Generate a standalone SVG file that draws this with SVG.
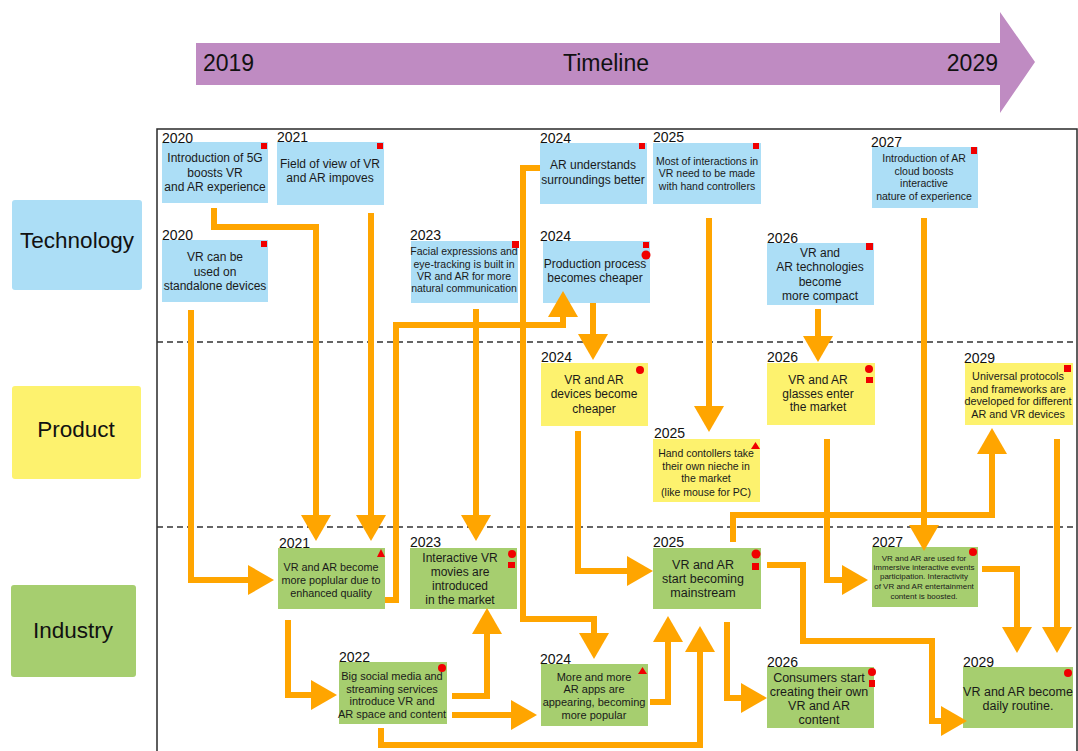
<svg xmlns="http://www.w3.org/2000/svg" width="1078" height="751" viewBox="0 0 1078 751">
<defs>
<marker id="ah" markerUnits="userSpaceOnUse" markerWidth="26" markerHeight="30" viewBox="0 0 26 30" refX="0" refY="15" orient="auto">
<path d="M0,0 L26,15 L0,30 Z" fill="#FFA500"/>
</marker>
</defs>
<style>
.lbl{font-family:"Liberation Sans",Arial,sans-serif;fill:#111;text-anchor:middle}
.yr{font-family:"Liberation Sans",Arial,sans-serif;font-size:14px;fill:#111}
.t{font-family:"Liberation Sans",Arial,sans-serif;fill:#1a1a1a;text-anchor:middle}
.tech{fill:#ACDEF6}
.prod{fill:#FDF26E}
.ind{fill:#A6CE6F}
.mk{fill:#F00000}
.c{fill:none;stroke:#FFA500;stroke-width:6;stroke-linejoin:miter;stroke-linecap:butt;marker-end:url(#ah)}
.dash{stroke:#333;stroke-width:1.3;stroke-dasharray:6,4}
</style>
<rect width="1078" height="751" fill="#fff"/>

<g id="timeline">
<path d="M196,43 H1000 V12 L1035,62 L1000,113 V85 H196 Z" fill="#BF8BC2"/>
<text x="203" y="71" font-family="Liberation Sans, Arial, sans-serif" font-size="23" fill="#111">2019</text>
<text x="606" y="71" class="lbl" font-size="23">Timeline</text>
<text x="998" y="71" font-family="Liberation Sans, Arial, sans-serif" font-size="23" fill="#111" text-anchor="end">2029</text>
</g>

<g id="lanes">
<rect x="12" y="200" width="130" height="90" rx="3" class="tech"/>
<text x="77" y="248" class="lbl" font-size="22.5">Technology</text>
<rect x="12" y="386" width="129" height="93" rx="3" class="prod"/>
<text x="76" y="437" class="lbl" font-size="22.5">Product</text>
<rect x="11" y="585" width="125" height="92" rx="3" class="ind"/>
<text x="73" y="638" class="lbl" font-size="22.5">Industry</text>
<rect x="157" y="129" width="920" height="640" fill="none" stroke="#2a2a2a" stroke-width="1.5"/>
<line x1="157" y1="342" x2="1077" y2="342" class="dash"/>
<line x1="157" y1="527" x2="1077" y2="527" class="dash"/>
</g>

<g id="nodes">
<g id="n1"><rect x="162" y="142" width="106" height="61" class="tech"/><text x="162" y="143" class="yr">2020</text>
<text class="t" font-size="12"><tspan x="215" y="162">Introduction of 5G</tspan><tspan x="215" y="177">boosts VR</tspan><tspan x="215" y="191">and AR experience</tspan></text>
<rect x="261" y="143" width="6" height="6" class="mk"/></g>

<g id="n2"><rect x="277" y="142" width="107" height="63" class="tech"/><text x="277" y="142" class="yr">2021</text>
<text class="t" font-size="12"><tspan x="330" y="168">Field of view of VR</tspan><tspan x="330" y="182">and AR impoves</tspan></text>
<rect x="377" y="143" width="6" height="6" class="mk"/></g>

<g id="n3"><rect x="162" y="240" width="106" height="62" class="tech"/><text x="162" y="240" class="yr">2020</text>
<text class="t" font-size="12"><tspan x="215" y="261">VR can be</tspan><tspan x="215" y="276">used on</tspan><tspan x="215" y="290">standalone devices</tspan></text>
<rect x="261" y="241" width="6" height="6" class="mk"/></g>

<g id="n4"><rect x="411" y="241" width="107" height="62" class="tech"/><text x="410" y="240" class="yr">2023</text>
<text class="t" font-size="10.5"><tspan x="464" y="255">Facial expressions and</tspan><tspan x="464" y="268">eye-tracking is built in</tspan><tspan x="464" y="280">VR and AR for more</tspan><tspan x="464" y="292">natural communication</tspan></text>
<rect x="512" y="241" width="7" height="7" class="mk"/></g>

<g id="n5"><rect x="540" y="143" width="107" height="61" class="tech"/><text x="540" y="143" class="yr">2024</text>
<text class="t" font-size="12"><tspan x="593" y="169">AR understands</tspan><tspan x="593" y="184">surroundings better</tspan></text>
<rect x="639" y="143" width="6" height="6" class="mk"/></g>

<g id="n6"><rect x="653" y="143" width="108" height="61" class="tech"/><text x="653" y="142" class="yr">2025</text>
<text class="t" font-size="10.5"><tspan x="707" y="165">Most of interactions in</tspan><tspan x="707" y="177">VR need to be made</tspan><tspan x="707" y="190">with hand controllers</tspan></text>
<rect x="753" y="143" width="6" height="6" class="mk"/></g>

<g id="n7"><rect x="543" y="241" width="107" height="62" class="tech"/><text x="540" y="241" class="yr">2024</text>
<text class="t" font-size="12"><tspan x="595" y="268">Production process</tspan><tspan x="595" y="282">becomes cheaper</tspan></text>
<rect x="643" y="242" width="6" height="6" class="mk"/><circle cx="646" cy="255" r="4.5" class="mk"/></g>

<g id="n8"><rect x="767" y="243" width="107" height="62" class="tech"/><text x="767" y="243" class="yr">2026</text>
<text class="t" font-size="12"><tspan x="820" y="257">VR and</tspan><tspan x="820" y="271">AR technologies</tspan><tspan x="820" y="286">become</tspan><tspan x="820" y="300">more compact</tspan></text>
<rect x="866" y="243" width="7" height="7" class="mk"/></g>

<g id="n9"><rect x="872" y="147" width="106" height="61" class="tech"/><text x="871" y="147" class="yr">2027</text>
<text class="t" font-size="10.5"><tspan x="924" y="162">Introduction of AR</tspan><tspan x="924" y="175">cloud boosts</tspan><tspan x="924" y="187">interactive</tspan><tspan x="924" y="200">nature of experience</tspan></text>
<rect x="971" y="147" width="6" height="7" class="mk"/></g>

<g id="n10"><rect x="541" y="363" width="107" height="63" class="prod"/><text x="541" y="362" class="yr">2024</text>
<text class="t" font-size="12"><tspan x="594" y="384">VR and AR</tspan><tspan x="594" y="398">devices become</tspan><tspan x="594" y="413">cheaper</tspan></text>
<circle cx="640" cy="370" r="4" class="mk"/></g>

<g id="n11"><rect x="653" y="439" width="107" height="63" class="prod"/><text x="654" y="438" class="yr">2025</text>
<text class="t" font-size="10.5"><tspan x="706" y="457">Hand contollers take</tspan><tspan x="706" y="470">their own nieche in</tspan><tspan x="706" y="482">the market</tspan><tspan x="706" y="496">(like mouse for PC)</tspan></text>
<path d="M751,449 L755.5,442 L760,449 Z" class="mk"/></g>

<g id="n12"><rect x="767" y="363" width="108" height="62" class="prod"/><text x="767" y="362" class="yr">2026</text>
<text class="t" font-size="12"><tspan x="818" y="384">VR and AR</tspan><tspan x="818" y="398">glasses enter</tspan><tspan x="818" y="411">the market</tspan></text>
<circle cx="869" cy="369" r="4" class="mk"/><rect x="866" y="377" width="7" height="6" class="mk"/></g>

<g id="n13"><rect x="965" y="363" width="108" height="62" class="prod"/><text x="964" y="363" class="yr">2029</text>
<text class="t" font-size="10.8"><tspan x="1018" y="380">Universal protocols</tspan><tspan x="1018" y="393">and frameworks are</tspan><tspan x="1018" y="405">developed for different</tspan><tspan x="1018" y="418">AR and VR devices</tspan></text>
<rect x="1064" y="365" width="7" height="7" class="mk"/></g>

<g id="n14"><rect x="278" y="548" width="107" height="61" class="ind"/><text x="279" y="548" class="yr">2021</text>
<text class="t" font-size="10.8"><tspan x="331" y="571">VR and AR become</tspan><tspan x="331" y="584">more poplular due to</tspan><tspan x="331" y="597">enhanced quality</tspan></text>
<path d="M377,557 L381,549 L385,557 Z" class="mk"/></g>

<g id="n15"><rect x="410" y="548" width="107" height="61" class="ind"/><text x="410" y="547" class="yr">2023</text>
<text class="t" font-size="12"><tspan x="460" y="562">Interactive VR</tspan><tspan x="460" y="576">movies are</tspan><tspan x="460" y="590">introduced</tspan><tspan x="460" y="604">in the market</tspan></text>
<circle cx="512" cy="554" r="4" class="mk"/><rect x="508" y="562" width="7" height="6" class="mk"/></g>

<g id="n16"><rect x="653" y="548" width="108" height="61" class="ind"/><text x="653" y="547" class="yr">2025</text>
<text class="t" font-size="12.5"><tspan x="703" y="569">VR and AR</tspan><tspan x="703" y="583">start becoming</tspan><tspan x="703" y="597">mainstream</tspan></text>
<circle cx="756" cy="554" r="4.5" class="mk"/><rect x="752" y="563" width="7" height="7" class="mk"/></g>

<g id="n17"><rect x="872" y="547" width="106" height="60" class="ind"/><text x="872" y="547" class="yr">2027</text>
<text class="t" font-size="8"><tspan x="924" y="561">VR and AR are used for</tspan><tspan x="924" y="570">immersive interactive events</tspan><tspan x="924" y="579">participation. Interactivity</tspan><tspan x="924" y="589">of VR and AR entertainment</tspan><tspan x="924" y="599">content is boosted.</tspan></text>
<circle cx="973" cy="552" r="4" class="mk"/></g>

<g id="n18"><rect x="339" y="662" width="108" height="62" class="ind"/><text x="339" y="662" class="yr">2022</text>
<text class="t" font-size="11"><tspan x="392" y="680">Big social media and</tspan><tspan x="392" y="693">streaming services</tspan><tspan x="392" y="705">introduce VR and</tspan><tspan x="392" y="718">AR space and content</tspan></text>
<circle cx="442" cy="668" r="4" class="mk"/></g>

<g id="n19"><rect x="541" y="664" width="107" height="62" class="ind"/><text x="540" y="664" class="yr">2024</text>
<text class="t" font-size="11"><tspan x="594" y="681">More and more</tspan><tspan x="594" y="693">AR apps are</tspan><tspan x="594" y="706">appearing, becoming</tspan><tspan x="594" y="719">more popular</tspan></text>
<path d="M638,674 L642.5,667 L647,674 Z" class="mk"/></g>

<g id="n20"><rect x="767" y="667" width="107" height="61" class="ind"/><text x="767" y="667" class="yr">2026</text>
<text class="t" font-size="12.5"><tspan x="819" y="682">Consumers start</tspan><tspan x="819" y="696">creating their own</tspan><tspan x="819" y="710">VR and AR</tspan><tspan x="819" y="724">content</tspan></text>
<circle cx="872" cy="672" r="4" class="mk"/><rect x="869" y="680" width="6" height="7" class="mk"/></g>

<g id="n21"><rect x="963" y="667" width="110" height="61" class="ind"/><text x="963" y="667" class="yr">2029</text>
<text class="t" font-size="12.5"><tspan x="1018" y="696">VR and AR become</tspan><tspan x="1018" y="710">daily routine.</tspan></text>
<circle cx="1068" cy="673" r="4" class="mk"/></g>
</g>

<g id="connectors">
<path class="c" d="M214,208 V227 H316 V515"/>
<path class="c" d="M371,213 V515"/>
<path class="c" d="M191,310 V580 H248"/>
<path class="c" d="M385,600 H396 V325 H563 V317"/>
<path class="c" d="M476,309 V515"/>
<path class="c" d="M540,168 H523 V619 H594 V633"/>
<path class="c" d="M593,303 V334"/>
<path class="c" d="M709,218 V406"/>
<path class="c" d="M578,431 V571 H627"/>
<path class="c" d="M818,309 V336"/>
<path class="c" d="M924,218 V525"/>
<path class="c" d="M827,439 V580 H842"/>
<path class="c" d="M733,542 V515 H992 V454"/>
<path class="c" d="M1057,439 V627"/>
<path class="c" d="M982,569 H1017 V627"/>
<path class="c" d="M767,565 H803 V641 H932 V721 H941"/>
<path class="c" d="M727,622 V698 H741"/>
<path class="c" d="M452,696 H487 V634"/>
<path class="c" d="M452,715 H511"/>
<path class="c" d="M381,728 V745 H700 V652"/>
<path class="c" d="M650,702 H668 V642"/>
<path class="c" d="M288,620 V695 H311"/>
</g>
</svg>
